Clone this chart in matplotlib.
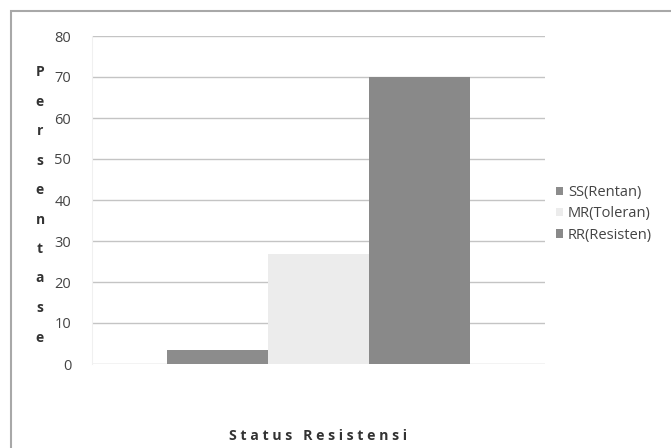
import matplotlib

matplotlib.use("Agg")
from matplotlib import pyplot as plt
from matplotlib.patches import Patch, Rectangle

series = ["SS(Rentan)", "MR(Toleran)", "RR(Resisten)"]
values = [3.3, 26.8, 70.0]
colors = ["#8c8c8c", "#ececec", "#898989"]
yticks = [0, 10, 20, 30, 40, 50, 60, 70, 80]
ylabel = "Persentase"
xlabel = "Status Resistensi"

plt.rcParams["font.family"] = ["Open Sans", "DejaVu Sans"]

fig = plt.figure(figsize=(6.71, 4.48), dpi=100)
ax = fig.add_axes([92 / 671, 1 - 364 / 448, 453 / 671, 328 / 448])

# one category, three side-by-side series bars
width = 0.223
for i, (name, val, col) in enumerate(zip(series, values, colors)):
    ax.bar((i - 1) * width, val, width=width, color=col, label=name, zorder=3)

ax.set_xlim(-0.5, 0.5)
ax.set_ylim(0, 80)
ax.set_yticks(yticks)
ax.set_xticks([])
ax.tick_params(axis="y", length=0, pad=15, labelsize=10.5, labelcolor="#444444")
ax.grid(True, axis="y", color="#c4c4c4", linewidth=1.0, zorder=0)
for side in ["top", "right", "bottom"]:
    ax.spines[side].set_visible(False)
ax.spines["left"].set_color("#f0f0f0")

# stacked letters of the vertical axis title
for k, ch in enumerate(ylabel):
    fig.text(40 / 671, 1 - (72 + k * 29.5) / 448, ch, ha="center", va="center",
             fontsize=10, fontweight="bold", color="#333333")

fig.text(318 / 671, 1 - 436 / 448, " ".join(xlabel),
         ha="center", va="center", fontsize=10.2, fontweight="bold", color="#333333")

handles = [Patch(facecolor=c, edgecolor="none") for c in colors]
fig.legend(handles, series, loc="center left", bbox_to_anchor=(543 / 671, 1 - 214 / 448),
           frameon=False, fontsize=10.5, labelcolor="#444444", handlelength=0.5,
           handleheight=0.5, handletextpad=0.3, labelspacing=0.42)

# outer chart border
fig.patches.append(Rectangle((11 / 671, -0.1), 1.2, 1 - 11 / 448 + 0.1,
                             transform=fig.transFigure, fill=False,
                             edgecolor="#a8a8a8", linewidth=1.5))

fig.savefig("out.png", dpi=100)
